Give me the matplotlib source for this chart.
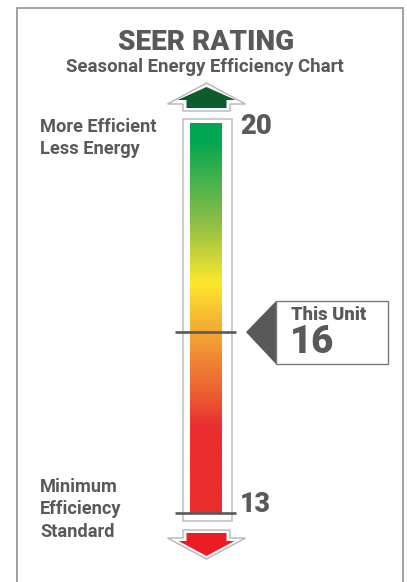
import matplotlib
matplotlib.use("Agg")
import matplotlib.pyplot as plt
import numpy as np
from matplotlib.colors import LinearSegmentedColormap
from matplotlib.patches import Polygon, Rectangle

# ---- data ----
title = "SEER RATING"
subtitle = "Seasonal Energy Efficiency Chart"
min_rating = 13
max_rating = 20
unit_rating = 16
top_label = ["More Efficient", "Less Energy"]
bottom_label = ["Minimum", "Efficiency", "Standard"]
unit_label = "This Unit"
grad_stops = [0.0, 0.04, 0.25, 0.41, 0.5, 0.6, 0.7, 0.78, 1.0]
grad_colors = ["#00a652", "#00a652", "#8cbd47", "#fce82b", "#f6b933",
               "#f08a35", "#eb5c30", "#e92e2f", "#e92e2f"]

# ---- style / layout ----
W, H = 407, 582
TXT = "#58595b"
FONT = "Roboto"
fig = plt.figure(figsize=(W / 100, H / 100), dpi=100)
ax = fig.add_axes([0, 0, 1, 1])
ax.set_xlim(0, W)
ax.set_ylim(H, 0)
ax.axis("off")
fig.canvas.draw()
renderer = fig.canvas.get_renderer()


def fit_text(x, y, s, width_px, ha="left", weight=900, **kw):
    t = ax.text(x, y, s, ha=ha, va="center", fontsize=10, fontweight=weight,
                color=TXT, family=FONT, **kw)
    w = t.get_window_extent(renderer).width
    t.set_fontsize(10 * width_px / w)
    return t


# outer border (open at the bottom)
ax.plot([17, 17, 403, 403], [H + 5, 8, 8, H + 5], color="#9a9a9a", lw=1.3,
        solid_joinstyle="miter")

fit_text(206.5, 43, title, 176, ha="center")
fit_text(204.5, 67, subtitle, 278, ha="center", weight="bold")

cx = 206.5
bar_top, bar_bot = 123, 513
px_per_unit = 60.3


def yv(v):
    return bar_bot - (v - min_rating) * px_per_unit


ax.add_patch(Rectangle((183, 119), 49, 402, facecolor="white", edgecolor="#c4c4c4", lw=1.2))
cmap = LinearSegmentedColormap.from_list("seer", list(zip(grad_stops, grad_colors)))
grad = np.linspace(0, 1, 400).reshape(-1, 1)
ax.imshow(grad, cmap=cmap, aspect="auto", extent=(190, 222, bar_bot, bar_top),
          interpolation="bilinear", zorder=2)


def arrow(tip_y, head_y, end_y, head_hw, shaft_hw):
    return [(cx, tip_y), (cx + head_hw, head_y), (cx + shaft_hw, head_y),
            (cx + shaft_hw, end_y), (cx - shaft_hw, end_y), (cx - shaft_hw, head_y),
            (cx - head_hw, head_y)]


ax.add_patch(Polygon(arrow(83, 104, 111, 39, 23.5), closed=True, facecolor="white",
                     edgecolor="#b5b5b5", lw=1.0, zorder=3))
ax.add_patch(Polygon(arrow(87, 100, 108, 29, 20), closed=True, facecolor="#0d5c2d",
                     edgecolor="none", zorder=4))
ax.add_patch(Polygon(arrow(559, 538, 530, 39, 23.5), closed=True, facecolor="white",
                     edgecolor="#b5b5b5", lw=1.0, zorder=3))
ax.add_patch(Polygon(arrow(556, 541, 533, 28, 20), closed=True, facecolor="#ed1c24",
                     edgecolor="none", zorder=4))

for v in (unit_rating, min_rating):
    ax.plot([175, 236], [yv(v), yv(v)], color=TXT, lw=1.9, zorder=5,
            solid_capstyle="butt")

fit_text(240, bar_top + 4, str(max_rating), 32)
fit_text(240, yv(min_rating) - 9, str(min_rating), 31)

yu = yv(unit_rating)
ax.add_patch(Polygon([(246, yu), (276, yu - 31), (276, yu + 32)], closed=True,
                     facecolor=TXT, edgecolor="none", zorder=5))
ax.add_patch(Rectangle((276, yu - 31), 112, 63, facecolor="white", edgecolor="#7a7a7a",
                       lw=1.0, zorder=5))
fit_text(291, yu - 17, unit_label, 75, zorder=6)
fit_text(290, yu + 10, str(unit_rating), 44, zorder=6)

t0 = fit_text(40, 127, top_label[0], 117, weight="bold")
fs = t0.get_fontsize()
for i, s in enumerate(top_label[1:], start=1):
    ax.text(40, 127 + i * 22, s, ha="left", va="center", fontsize=fs, fontweight="bold",
            color=TXT, family=FONT)
for i, s in enumerate(bottom_label):
    ax.text(40, 487 + i * 22.5, s, ha="left", va="center", fontsize=fs,
            fontweight="bold", color=TXT, family=FONT)

fig.savefig("out.png", dpi=100)
